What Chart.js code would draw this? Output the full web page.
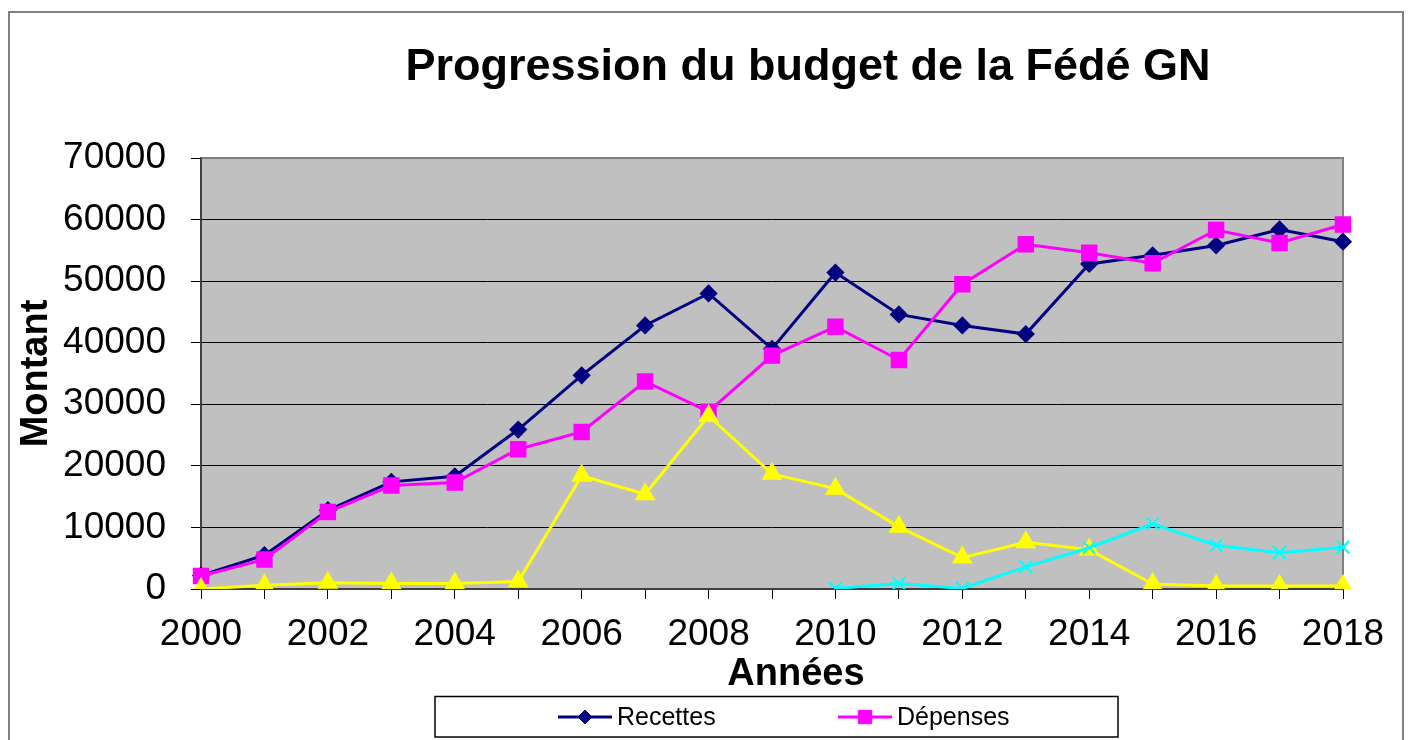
<!DOCTYPE html>
<html><head><meta charset="utf-8">
<script src="https://cdn.jsdelivr.net/npm/chart.js@4/dist/chart.umd.min.js"></script>
<style>html,body{margin:0;padding:0;background:#fff;overflow:hidden;}</style>
</head><body>
<canvas id="c" width="1408" height="740"></canvas>
<script>
const years = ['2000','2001','2002','2003','2004','2005','2006','2007','2008','2009','2010','2011','2012','2013','2014','2015','2016','2017','2018'];
const recettes = [2200,5500,12800,17400,18300,25900,34700,42800,48000,39000,51400,44600,42800,41400,52800,54200,55800,58400,56400];
const depenses = [2100,4800,12500,16800,17300,22700,25500,33700,28800,37900,42600,37200,49500,56000,54600,52900,58300,56200,59200];
const serie3 = [0,600,1000,900,900,1200,18400,15400,28100,18700,16300,10100,5100,7600,6400,800,500,500,500];
const serie4 = [null,null,null,null,null,null,null,null,null,null,100,900,100,3600,6700,10600,7100,5900,6800];
const seriesNames = ['Recettes','Dépenses','Série3','Série4'];
const titleText = 'Progression du budget de la Fédé GN';
const yTitle = 'Montant';
const xTitle = 'Années';

const FONT = "'Liberation Sans', Arial, sans-serif";

const decor = {
  id: 'decor',
  beforeDraw(chart) {
    const {ctx, chartArea: a} = chart;
    ctx.save();
    ctx.fillStyle = '#fff';
    ctx.fillRect(0, 0, chart.width, chart.height);
    ctx.fillStyle = '#C0C0C0';
    ctx.fillRect(a.left, a.top, a.right - a.left, a.bottom - a.top);
    ctx.strokeStyle = '#808080';
    ctx.lineWidth = 2;
    ctx.strokeRect(9, 12, 1394, 760);
    ctx.restore();
  },
  beforeDatasetsDraw(chart) {
    const {ctx, chartArea: a} = chart;
    ctx.save();
    ctx.strokeStyle = '#808080';
    ctx.lineWidth = 2;
    ctx.beginPath();
    ctx.moveTo(a.left, a.top); ctx.lineTo(a.right, a.top); ctx.lineTo(a.right, a.bottom);
    ctx.stroke();
    ctx.strokeStyle = '#404040';
    ctx.beginPath();
    ctx.moveTo(a.left, a.top); ctx.lineTo(a.left, a.bottom); ctx.lineTo(a.right, a.bottom);
    ctx.stroke();
    ctx.restore();
  },
  afterDraw(chart) {
    const ctx = chart.ctx;
    ctx.save();
    // title
    ctx.fillStyle = '#000';
    ctx.font = 'bold 45px ' + FONT;
    ctx.textAlign = 'center';
    ctx.textBaseline = 'alphabetic';
    ctx.fillText(titleText, 808, 80);
    // x axis title
    ctx.font = 'bold 38px ' + FONT;
    ctx.fillText(xTitle, 796, 685);
    // legend box
    ctx.strokeStyle = '#000';
    ctx.lineWidth = 1.5;
    ctx.strokeRect(435, 696.5, 683, 40.5);
    const items = [{i:0, x:558}, {i:1, x:838}];
    ctx.font = '25px ' + FONT;
    ctx.textAlign = 'left';
    ctx.textBaseline = 'middle';
    items.forEach(it => {
      const ds = chart.data.datasets[it.i];
      const y = 717;
      ctx.strokeStyle = ds.borderColor;
      ctx.lineWidth = 3;
      ctx.beginPath(); ctx.moveTo(it.x, y); ctx.lineTo(it.x + 54, y); ctx.stroke();
      ctx.fillStyle = ds.pointBackgroundColor;
      ctx.strokeStyle = ds.pointBorderColor;
      ctx.lineWidth = 1;
      Chart.helpers.drawPoint(ctx, {pointStyle: ds.pointStyle, radius: ds.pointRadius, rotation: 0, borderWidth: 1}, it.x + 27, y);
      ctx.fillStyle = '#000';
      ctx.fillText(ds.label, it.x + 59, y + 1);
    });
    ctx.restore();
  }
};

new Chart(document.getElementById('c'), {
  type: 'line',
  data: {
    labels: years,
    datasets: [
      {label: seriesNames[0], data: recettes, borderColor: '#000080', backgroundColor: '#000080',
       pointBackgroundColor: '#000080', pointBorderColor: '#000080', pointStyle: 'rectRot', pointRadius: 7,
       borderWidth: 3, order: 4},
      {label: seriesNames[1], data: depenses, borderColor: '#FF00FF', backgroundColor: '#FF00FF',
       pointBackgroundColor: '#FF00FF', pointBorderColor: '#FF00FF', pointStyle: 'rect', pointRadius: 9.5,
       borderWidth: 3, order: 3},
      {label: seriesNames[2], data: serie3, borderColor: '#FFFF00', backgroundColor: '#FFFF00',
       pointBackgroundColor: '#FFFF00', pointBorderColor: '#FFFF00', pointStyle: 'triangle', pointRadius: 9,
       borderWidth: 3, order: 2},
      {label: seriesNames[3], data: serie4, borderColor: '#00FFFF', backgroundColor: '#00FFFF',
       pointBackgroundColor: '#00FFFF', pointBorderColor: '#00FFFF', pointStyle: 'crossRot', pointRadius: 9,
       pointBorderWidth: 2, borderWidth: 3, order: 1, spanGaps: false}
    ]
  },
  options: {
    responsive: false,
    animation: false,
    devicePixelRatio: 1,
    layout: {padding: {top: 158, right: 65, bottom: 46, left: 0}},
    plugins: {legend: {display: false}, title: {display: false}, tooltip: {enabled: false}},
    elements: {line: {tension: 0}, point: {hoverRadius: 8}},
    scales: {
      x: {
        type: 'category',
        offset: false,
        grid: {display: true, drawOnChartArea: false, drawTicks: true, tickLength: 10, color: '#000', lineWidth: 1},
        border: {display: true, color: '#404040', width: 2},
        ticks: {
          autoSkip: false, maxRotation: 0, minRotation: 0, padding: 14, color: '#000',
          font: {family: FONT, size: 37},
          callback: function(v, i) { return i % 2 === 0 ? this.getLabelForValue(v) : ''; }
        },
        title: {display: false},
        afterFit(scale) { scale.height = 105; }
      },
      y: {
        min: 0, max: 70000,
        grid: {drawTicks: true, tickLength: 10, lineWidth: 1,
               color: ctx => (ctx.tick && ctx.tick.value === 70000) ? '#808080' : '#000', tickColor: '#000'},
        border: {display: true, color: '#404040', width: 2},
        ticks: {stepSize: 10000, padding: 25, color: '#000', font: {family: FONT, size: 37},
                callback: v => String(v)},
        title: {display: true, text: yTitle, color: '#000', font: {family: FONT, size: 38, weight: 'bold'}, padding: {top: 14, bottom: 0}},
        afterFit(scale) { scale.width = 201; }
      }
    }
  },
  plugins: [decor]
});
</script>
</body></html>
